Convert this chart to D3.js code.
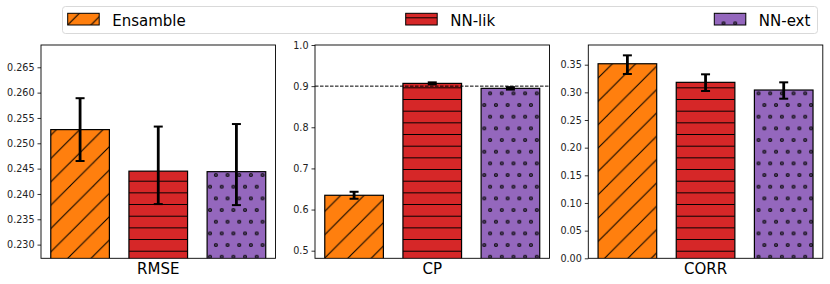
<!DOCTYPE html>
<html>
<head>
<meta charset="utf-8">
<script src="https://cdn.jsdelivr.net/npm/d3@7"></script>
<style>
  body { margin: 0; background: #fff; }
  svg { display: block; font-family: "DejaVu Sans", sans-serif; }
</style>
</head>
<body>
<div id="chart"></div>
<script>
// data
var methods = ["Ensamble", "NN-lik", "NN-ext"];
var colors = ["#ff7f0e", "#d62728", "#9467bd"];
var metrics = ["RMSE", "CP", "CORR"];

// bar heights and error bar ends (low / high)
var rmseMean = [0.2527, 0.2445, 0.2444];
var rmseLow = [0.2465, 0.2380, 0.2378];
var rmseHigh = [0.2589, 0.2533, 0.2538];
var cpMean = [0.6347, 0.9067, 0.8946];
var cpLow = [0.6262, 0.9042, 0.8916];
var cpHigh = [0.6432, 0.9092, 0.8976];
var corrMean = [0.3517, 0.3181, 0.3042];
var corrLow = [0.3332, 0.3024, 0.2885];
var corrHigh = [0.3669, 0.3326, 0.3181];

var rmseTicks = [0.230, 0.235, 0.240, 0.245, 0.250, 0.255, 0.260, 0.265];
var cpTicks = [0.5, 0.6, 0.7, 0.8, 0.9, 1.0];
var corrTicks = [0.00, 0.05, 0.10, 0.15, 0.20, 0.25, 0.30, 0.35];
var cpTarget = 0.9;

// chart set up
var svgWidth = 830, svgHeight = 284;
var panelTop = 45, panelHeight = 213.3, panelWidth = 234.5;
var panelLefts = [41, 315, 588.3];

var panels = [
  {name: metrics[0], mean: rmseMean, low: rmseLow, high: rmseHigh, ticks: rmseTicks, ylim: [0.2273, 0.2694], fmt: ".3f"},
  {name: metrics[1], mean: cpMean, low: cpLow, high: cpHigh, ticks: cpTicks, ylim: [0.4815, 1.0], fmt: ".1f", hline: cpTarget},
  {name: metrics[2], mean: corrMean, low: corrLow, high: corrHigh, ticks: corrTicks, ylim: [0, 0.3856], fmt: ".2f"}
];

var svg = d3.select("#chart").append("svg")
    .attr("width", svgWidth)
    .attr("height", svgHeight);

var defs = svg.append("defs");

// hatch patterns, phased against the page so they line up between panels
function makePatterns(suffix, ox, oy) {
  var step = 11.67;
  var diag = defs.append("pattern")
      .attr("id", "hatch0" + suffix)
      .attr("patternUnits", "userSpaceOnUse")
      .attr("x", -ox).attr("y", 22.6 - oy)
      .attr("width", step * 2).attr("height", step * 2);
  diag.append("rect").attr("width", step * 2).attr("height", step * 2).attr("fill", colors[0]);
  [[0, step * 2, step * 2, 0], [-step, step, step, -step], [step, step * 3, step * 3, step]].forEach(function (l) {
    diag.append("line")
        .attr("x1", l[0]).attr("y1", l[1]).attr("x2", l[2]).attr("y2", l[3])
        .attr("stroke", "#000").attr("stroke-width", 1);
  });

  var horiz = defs.append("pattern")
      .attr("id", "hatch1" + suffix)
      .attr("patternUnits", "userSpaceOnUse")
      .attr("x", -ox).attr("y", 5.65 - oy)
      .attr("width", 10).attr("height", step);
  horiz.append("rect").attr("width", 10).attr("height", step).attr("fill", colors[1]);
  horiz.append("line")
      .attr("x1", 0).attr("y1", 0.5).attr("x2", 10).attr("y2", 0.5)
      .attr("stroke", "#000").attr("stroke-width", 1);

  var dots = defs.append("pattern")
      .attr("id", "hatch2" + suffix)
      .attr("patternUnits", "userSpaceOnUse")
      .attr("x", -ox).attr("y", -oy)
      .attr("width", step).attr("height", step * 2);
  dots.append("rect").attr("width", step).attr("height", step * 2).attr("fill", colors[2]);
  [[0, 0], [step, 0], [0, step * 2], [step, step * 2], [step / 2, step]].forEach(function (p) {
    dots.append("circle")
        .attr("cx", p[0]).attr("cy", p[1]).attr("r", 1.5)
        .attr("fill", "#5a3d78").attr("stroke", "#111").attr("stroke-width", 1.1);
  });
}

makePatterns("_g", 0, 0);

panels.forEach(function (p, i) {
  var left = panelLefts[i];
  makePatterns("_p" + i, left, panelTop);

  var g = svg.append("g")
      .attr("transform", "translate(" + left + "," + panelTop + ")");

  var xScale = d3.scaleLinear().domain([-0.5, 2.5]).range([0, panelWidth]);
  var yScale = d3.scaleLinear().domain(p.ylim).range([panelHeight, 0]);

  var clipId = "clip" + i;
  defs.append("clipPath").attr("id", clipId)
    .append("rect").attr("width", panelWidth).attr("height", panelHeight);

  var plot = g.append("g").attr("clip-path", "url(#" + clipId + ")");

  // bars
  var barW = xScale(0.375) - xScale(0);
  plot.selectAll("rect.bar")
      .data(p.mean)
      .enter()
      .append("rect")
      .attr("class", "bar")
      .attr("x", function (d, j) { return xScale(j) - barW; })
      .attr("width", barW * 2)
      .attr("y", function (d) { return yScale(d); })
      .attr("height", function (d) { return panelHeight - yScale(d) + 5; })
      .attr("fill", function (d, j) { return "url(#hatch" + j + "_p" + i + ")"; })
      .attr("stroke", "#000")
      .attr("stroke-width", 1.2);

  // dashed reference line
  if (p.hline !== undefined) {
    g.append("line")
        .attr("x1", 0).attr("x2", panelWidth)
        .attr("y1", yScale(p.hline)).attr("y2", yScale(p.hline))
        .attr("stroke", "#000")
        .attr("stroke-width", 1)
        .attr("stroke-dasharray", "3.5,1.5");
  }

  // error bars
  var errG = g.selectAll("g.err")
      .data(p.mean)
      .enter()
      .append("g")
      .attr("class", "err");

  errG.append("line")
      .attr("x1", function (d, j) { return xScale(j); })
      .attr("x2", function (d, j) { return xScale(j); })
      .attr("y1", function (d, j) { return yScale(p.high[j]); })
      .attr("y2", function (d, j) { return yScale(p.low[j]); })
      .attr("stroke", "#000")
      .attr("stroke-width", 2.8);

  [p.high, p.low].forEach(function (ends) {
    errG.append("line")
        .attr("x1", function (d, j) { return xScale(j) - 4.5; })
        .attr("x2", function (d, j) { return xScale(j) + 4.5; })
        .attr("y1", function (d, j) { return yScale(ends[j]); })
        .attr("y2", function (d, j) { return yScale(ends[j]); })
        .attr("stroke", "#000")
        .attr("stroke-width", 2);
  });

  // y axis
  var leftAxis = d3.axisLeft(yScale)
      .tickValues(p.ticks)
      .tickFormat(d3.format(p.fmt))
      .tickSizeOuter(0)
      .tickSize(3.5)
      .tickPadding(3);

  var ax = g.append("g").call(leftAxis);
  ax.select(".domain").remove();
  ax.selectAll(".tick line").attr("stroke", "#000").attr("stroke-width", 0.8);
  ax.selectAll(".tick text")
      .attr("fill", "#222")
      .style("font-size", "9.6px")
      .style("font-family", "'DejaVu Sans', sans-serif");

  // frame
  g.append("rect")
      .attr("width", panelWidth)
      .attr("height", panelHeight)
      .attr("fill", "none")
      .attr("stroke", "#000")
      .attr("stroke-width", 0.9);

  // x label
  g.append("text")
      .attr("x", panelWidth / 2)
      .attr("y", panelHeight + 15.5)
      .attr("text-anchor", "middle")
      .style("font-size", "15px")
      .attr("fill", "#000")
      .text(p.name);
});

// legend
var legend = svg.append("g");
legend.append("rect")
    .attr("x", 62.5).attr("y", 6.5)
    .attr("width", 755).attr("height", 27)
    .attr("rx", 3)
    .attr("fill", "#fff")
    .attr("stroke", "#d9d9d9")
    .attr("stroke-width", 1);

var legendX = [67.7, 405.7, 714.3];
methods.forEach(function (m, j) {
  legend.append("rect")
      .attr("x", legendX[j]).attr("y", 13.3)
      .attr("width", 31.5).attr("height", 11.7)
      .attr("fill", "url(#hatch" + j + "_g)")
      .attr("stroke", "#000")
      .attr("stroke-width", 1);
  legend.append("text")
      .attr("x", legendX[j] + 44.5)
      .attr("y", 25.5)
      .style("font-size", "15px")
      .attr("fill", "#000")
      .text(m);
});
</script>
</body>
</html>
